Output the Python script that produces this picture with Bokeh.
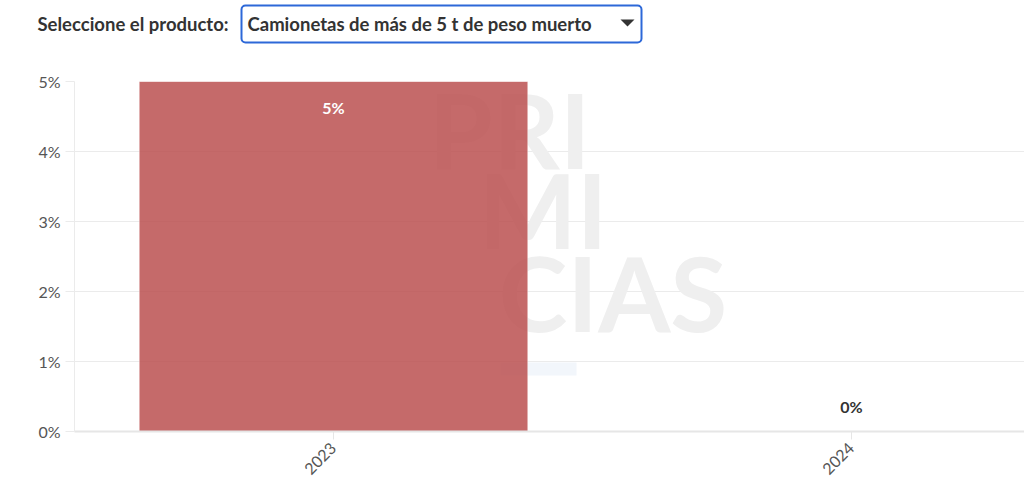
from bokeh.plotting import figure
from bokeh.layouts import column
from bokeh.models import (ColumnDataSource, Range1d, FixedTicker, Label,
                          BoxAnnotation, PolyAnnotation, CustomJSTickFormatter)
from bokeh.embed import file_html
from bokeh.resources import INLINE
from bokeh.core.properties import value
from math import pi

# Data
years = [2023, 2024]
shares = [5, 0]                      # percent
share_labels = ["5%", "0%"]
y_ticks = [0, 1, 2, 3, 4, 5]
product = "Camionetas de más de 5 t de peso muerto"
selector_caption = "Seleccione el producto:"

FONT = "Lato"
W, H = 1024, 504
HEAD_H = 50                          # header strip with the product selector
LEFT, TOP, BOTTOM = 74, 81 - HEAD_H, 73
CHART_H = H - HEAD_H
FRAME_BOTTOM = CHART_H - BOTTOM      # chart canvas y of the frame's bottom edge


def sx(x):
    """Frame-relative screen x for the chart."""
    return x - LEFT


def sy(y):
    """Frame-relative screen y (upwards) for a page y (downwards)."""
    return FRAME_BOTTOM - (y - HEAD_H)


# ---- header: "Seleccione el producto:" + selector box ----
head = figure(width=W, height=HEAD_H, output_backend="svg", toolbar_location=None,
              x_range=Range1d(0, W), y_range=Range1d(0, HEAD_H),
              min_border=0, min_border_left=0, min_border_right=0,
              min_border_top=0, min_border_bottom=0)
head.axis.visible = False
head.grid.grid_line_color = None
head.outline_line_color = None
try:
    head.frame_align = False
    p_frame_align = True
except AttributeError:
    p_frame_align = False

HX0 = 0 if p_frame_align else LEFT


def hx(x):
    return x - HX0


def hy(y):
    return HEAD_H - y


head.add_layout(Label(x=hx(37), y=hy(23), x_units="screen", y_units="screen",
                      text=selector_caption, text_font=FONT, text_font_style="bold",
                      text_font_size="18.5px", text_color="#333333",
                      text_baseline="middle"))
head.add_layout(BoxAnnotation(left=hx(241), right=hx(641), top=hy(5), bottom=hy(42),
                              left_units="screen", right_units="screen",
                              top_units="screen", bottom_units="screen",
                              fill_color="white", fill_alpha=1,
                              line_color="#2d68d8", line_alpha=1, line_width=2,
                              border_radius=4))
head.add_layout(Label(x=hx(247), y=hy(23), x_units="screen", y_units="screen",
                      text=product, text_font=FONT, text_font_style="bold",
                      text_font_size="18.5px", text_color="#333333",
                      text_baseline="middle"))
head.add_layout(PolyAnnotation(xs=[hx(620), hx(634), hx(627)], ys=[hy(19), hy(19), hy(26)],
                               xs_units="screen", ys_units="screen",
                               fill_color="#333333", fill_alpha=1, line_color=None))

# ---- bar chart ----
src = ColumnDataSource(dict(
    x=years,
    top=shares,
    label=share_labels,
    label_color=["#ffffff" if v > 0 else "#333333" for v in shares],
    label_dy=[26 if v > 0 else -25 for v in shares],
))

p = figure(width=W, height=CHART_H, output_backend="svg", toolbar_location=None,
           x_range=Range1d(2022.5, 2022.5 + (W - LEFT) / 518), y_range=Range1d(0, 5),
           min_border_left=LEFT, min_border_right=0, min_border_top=TOP,
           min_border_bottom=BOTTOM)
p.outline_line_color = None
p.background_fill_color = "white"
p.border_fill_color = "white"
if p_frame_align:
    p.frame_align = False

# Watermark behind the bars
for txt, cx, cy in [("PRI", 428, 128), ("MI", 478, 208), ("CIAS", 498, 291)]:
    p.add_layout(Label(x=sx(cx), y=sy(cy), x_units="screen", y_units="screen", text=txt,
                       text_font=FONT, text_font_style="bold", text_font_size="104px",
                       text_color="#efefef", text_baseline="middle", level="underlay"))
p.add_layout(BoxAnnotation(left=sx(500), right=sx(576), top=sy(362), bottom=sy(375),
                           left_units="screen", right_units="screen",
                           top_units="screen", bottom_units="screen",
                           fill_color="#f2f6fb", fill_alpha=1, line_color=None,
                           level="underlay"))

p.vbar(x="x", top="top", bottom=0, width=0.75, source=src,
       fill_color="#bb5050", fill_alpha=0.85, line_color="#ffffff", line_alpha=0.4)

p.text(x="x", y="top", text="label", source=src, y_offset="label_dy",
       text_color="label_color", text_font=value(FONT), text_font_style="bold",
       text_font_size="16px", text_align="center", text_baseline="middle")

# Axes
p.yaxis.ticker = FixedTicker(ticks=y_ticks)
p.yaxis.formatter = CustomJSTickFormatter(code="return tick + '%';")
p.yaxis.axis_line_color = "#ebebeb"
p.yaxis.major_tick_line_color = "#ebebeb"
p.yaxis.major_tick_out = 9
p.yaxis.major_tick_in = 0
p.yaxis.minor_tick_line_color = None
p.yaxis.major_label_text_font = FONT
p.yaxis.major_label_text_font_size = "16px"
p.yaxis.major_label_text_color = "#555555"
p.yaxis.major_label_standoff = 5

p.xaxis.ticker = FixedTicker(ticks=years)
p.xaxis.axis_line_color = "#e6e6e6"
p.xaxis.axis_line_width = 2
p.xaxis.major_tick_line_color = "#e6e6e6"
p.xaxis.major_tick_out = 8
p.xaxis.major_tick_in = 0
p.xaxis.minor_tick_line_color = None
p.xaxis.major_label_orientation = pi / 4
p.xaxis.major_label_text_font = FONT
p.xaxis.major_label_text_font_size = "16px"
p.xaxis.major_label_text_color = "#555555"
p.xaxis.major_label_standoff = 6

p.xgrid.grid_line_color = None
p.ygrid.grid_line_color = "#ebebeb"
p.ygrid.grid_line_width = 1

page = column(head, p, spacing=0)
open("out.html", "w").write(file_html(page, INLINE))
